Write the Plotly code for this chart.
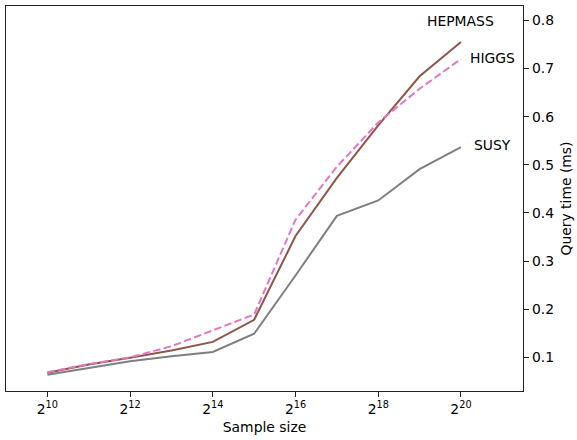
import math
import plotly.graph_objects as go

# Sample sizes as powers of two
exponents = [10, 11, 12, 13, 14, 15, 16, 17, 18, 19, 20]
sample_sizes = [2 ** e for e in exponents]

# Query time (ms) per dataset
hepmass = [0.068, 0.085, 0.099, 0.114, 0.132, 0.178, 0.352, 0.473, 0.582, 0.684, 0.755]
higgs = [0.069, 0.086, 0.100, 0.123, 0.156, 0.189, 0.386, 0.496, 0.588, 0.658, 0.720]
susy = [0.064, 0.078, 0.092, 0.102, 0.111, 0.149, 0.270, 0.394, 0.426, 0.491, 0.537]

tick_exponents = [10, 12, 14, 16, 18, 20]
tick_vals = [2 ** e for e in tick_exponents]
tick_text = [f"2<sup>{e}</sup>" for e in tick_exponents]
y_ticks = [0.1, 0.2, 0.3, 0.4, 0.5, 0.6, 0.7, 0.8]

font = dict(family="DejaVu Sans", size=13.9, color="black")
LOG2 = math.log10(2)

fig = go.Figure()
fig.add_trace(go.Scatter(x=sample_sizes, y=susy, mode="lines", name="SUSY",
                         line=dict(color="#7f7f7f", width=2.0)))
fig.add_trace(go.Scatter(x=sample_sizes, y=hepmass, mode="lines", name="HEPMASS",
                         line=dict(color="#8c564b", width=2.0)))
fig.add_trace(go.Scatter(x=sample_sizes, y=higgs, mode="lines", name="HIGGS",
                         line=dict(color="#e377c2", width=2.0, dash="7.5px,3.3px")))

# Dataset labels near the right end of each line (x given as log2 of sample size)
labels = [("HEPMASS", 20.0, 0.798), ("HIGGS", 20.77, 0.722), ("SUSY", 20.77, 0.542)]
for text, ex, y in labels:
    fig.add_annotation(x=ex * LOG2, y=y, text=text, showarrow=False, font=font,
                       xanchor="center", yanchor="middle")

fig.update_layout(
    width=577, height=440,
    margin=dict(l=6, r=52, t=5, b=49),
    paper_bgcolor="white", plot_bgcolor="white",
    showlegend=False, font=font,
)
fig.update_xaxes(
    type="log", range=[9.0 * LOG2, 21.5 * LOG2],
    tickvals=tick_vals, ticktext=tick_text,
    ticks="outside", ticklen=5, tickwidth=1, tickcolor="#222",
    showline=True, linecolor="#222", linewidth=1.2, mirror=True,
    showgrid=False, zeroline=False,
    title=dict(text="Sample size", font=font, standoff=6),
    tickfont=font,
)
fig.update_yaxes(
    side="right", range=[0.03, 0.83],
    tickvals=y_ticks, ticktext=[f"{v:.1f}" for v in y_ticks],
    ticks="outside", ticklen=5, tickwidth=1, tickcolor="#222",
    showline=True, linecolor="#222", linewidth=1.2, mirror=True,
    showgrid=False, zeroline=False,
    title=dict(text="Query time (ms)", font=font, standoff=8),
    tickfont=font,
)

fig.write_html("out.html")
